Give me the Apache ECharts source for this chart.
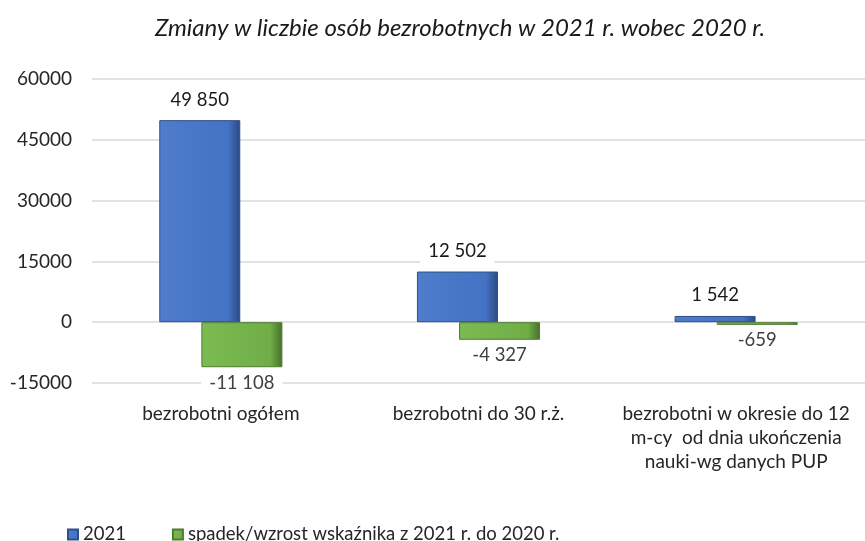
<!DOCTYPE html>
<html>
<head>
<meta charset="utf-8">
<script src="https://cdn.jsdelivr.net/npm/echarts@6/dist/echarts.min.js"></script>
<style>
  html, body { margin: 0; padding: 0; background: #fff; }
  #chart { width: 865px; height: 541px; }
</style>
</head>
<body>
<div id="chart"></div>
<script>
// kategorie i wartości
var categories = [
  'bezrobotni ogółem',
  'bezrobotni do 30 r.ż.',
  'bezrobotni w okresie do 12\nm-cy  od dnia ukończenia\nnauki-wg danych PUP'
]
var values2021 = [49850, 12502, 1542]
var valuesChange = [-11108, -4327, -659]
var seriesNames = ['2021', 'spadek/wzrost wskaźnika z 2021 r. do 2020 r.']
var yTicks = { min: -15000, max: 60000, interval: 15000 }

var FONT = 'Lato, "Noto Sans", sans-serif'

// format "49 850"
function fmt(v) {
  var s = Math.abs(v).toString().replace(/\B(?=(\d{3})+(?!\d))/g, ' ')
  return (v < 0 ? '-' : '') + s
}

var chart = echarts.init(document.getElementById('chart'))

var option = {
  animation: false,
  title: {
    text: 'Zmiany w liczbie osób bezrobotnych w 2021 r. wobec 2020 r.',
    left: 455,
    textAlign: 'center',
    top: 11,
    textStyle: { fontFamily: FONT, fontSize: 24, fontStyle: 'italic', fontWeight: 'normal', color: '#1a1a1a' }
  },
  legend: {
    left: 62,
    bottom: -8,
    icon: 'rect',
    itemWidth: 10,
    itemHeight: 10,
    itemGap: 46,
    textStyle: { fontFamily: FONT, fontSize: 18.5, color: '#262626' },
    data: seriesNames
  },
  grid: { left: 92, right: -7, top: 79, bottom: 158 },
  xAxis: {
    type: 'category',
    data: categories,
    axisLine: { show: false },
    axisTick: { show: false },
    axisLabel: {
      fontFamily: FONT, fontSize: 19, color: '#262626',
      margin: 19, lineHeight: 24, interval: 0
    }
  },
  yAxis: {
    type: 'value',
    min: yTicks.min,
    max: yTicks.max,
    interval: yTicks.interval,
    axisLine: { show: false },
    axisTick: { show: false },
    axisLabel: {
      fontFamily: FONT, fontSize: 19, color: '#262626', margin: 20,
      formatter: function (v) { return String(v) }
    },
    splitLine: { lineStyle: { color: '#d9d9d9', width: 1.5 } }
  },
  series: [{
    name: seriesNames[0],
    type: 'bar',
    data: values2021,
    barWidth: 81,
    barGap: '-48%',
    itemStyle: {
      color: new echarts.graphic.LinearGradient(0, 0, 1, 0, [
        { offset: 0, color: '#4f7dcc' },
        { offset: 0.85, color: '#4472c4' },
        { offset: 1, color: '#2b4a80' }
      ]),
      borderColor: '#2f4f8a',
      borderWidth: 1
    },
    label: {
      show: true,
      position: 'top',
      distance: 8,
      fontFamily: FONT, fontSize: 18.5, color: '#1a1a1a',
      backgroundColor: '#fff',
      padding: [3, 8],
      formatter: function (p) { return fmt(p.value) }
    }
  }, {
    name: seriesNames[1],
    type: 'bar',
    data: valuesChange,
    barWidth: 81,
    itemStyle: {
      color: new echarts.graphic.LinearGradient(0, 0, 1, 0, [
        { offset: 0, color: '#7cbb52' },
        { offset: 0.85, color: '#70ad47' },
        { offset: 1, color: '#46702b' }
      ]),
      borderColor: '#4e7a31',
      borderWidth: 1
    },
    label: {
      show: true,
      position: 'bottom',
      distance: 3,
      fontFamily: FONT, fontSize: 18.5, color: '#404040',
      backgroundColor: '#fff',
      padding: [3, 8],
      formatter: function (p) { return fmt(p.value) }
    }
  }]
}

chart.setOption(option)
</script>
</body>
</html>
